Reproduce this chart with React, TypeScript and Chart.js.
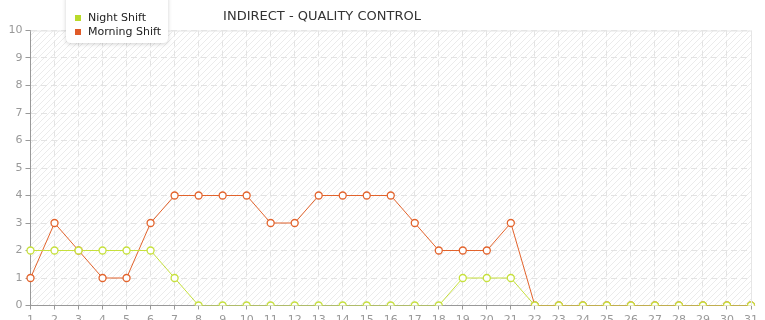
import React, { useEffect, useRef } from "react";
import { Chart, registerables } from "chart.js";

Chart.register(...registerables);

const TITLE = "INDIRECT - QUALITY CONTROL";
const DAYS = Array.from({ length: 31 }, (_, i) => String(i + 1));
const NIGHT_SHIFT = [2, 2, 2, 2, 2, 2, 1, 0, 0, 0, 0, 0, 0, 0, 0, 0, 0, 0, 1, 1, 1, 0, 0, 0, 0, 0, 0, 0, 0, 0, 0];
const MORNING_SHIFT = [1, 3, 2, 1, 1, 3, 4, 4, 4, 4, 3, 3, 4, 4, 4, 4, 3, 2, 2, 2, 3, 0, 0, 0, 0, 0, 0, 0, 0, 0, 0];
const Y_MAX = 10;

const NIGHT_COLOR = "#c6e03c";
const MORNING_COLOR = "#e2632c";

function makeHatch(): CanvasPattern | string {
  const p = document.createElement("canvas");
  p.width = 6;
  p.height = 6;
  const c = p.getContext("2d");
  if (!c) return "#fafafa";
  c.fillStyle = "#ffffff";
  c.fillRect(0, 0, 6, 6);
  c.strokeStyle = "#ebebeb";
  c.lineWidth = 1;
  c.beginPath();
  c.moveTo(0, 6);
  c.lineTo(6, 0);
  c.moveTo(-1, 1);
  c.lineTo(1, -1);
  c.moveTo(5, 7);
  c.lineTo(7, 5);
  c.stroke();
  return c.createPattern(p, "repeat") || "#fafafa";
}

const backgroundPlugin = {
  id: "hatchBackground",
  beforeDraw(chart: any) {
    const { ctx, chartArea } = chart;
    ctx.save();
    ctx.fillStyle = makeHatch();
    ctx.fillRect(chartArea.left, chartArea.top, chartArea.right - chartArea.left, chartArea.bottom - chartArea.top);
    ctx.restore();
  },
  afterDraw(chart: any) {
    const { ctx, chartArea } = chart;
    ctx.save();
    // frame on top and right edges
    ctx.strokeStyle = "#e6e6e6";
    ctx.lineWidth = 1;
    ctx.beginPath();
    ctx.moveTo(chartArea.left, chartArea.top + 0.5);
    ctx.lineTo(chartArea.right + 0.5, chartArea.top + 0.5);
    ctx.lineTo(chartArea.right + 0.5, chartArea.bottom);
    ctx.stroke();

    // title
    ctx.fillStyle = "#333333";
    ctx.font = "13px 'DejaVu Sans', Verdana, sans-serif";
    ctx.textAlign = "center";
    ctx.textBaseline = "middle";
    ctx.fillText(TITLE, 322, 17);

    // floating legend box
    const bx = 66, by = -6, bw = 102, bh = 49, r = 5;
    ctx.shadowColor = "rgba(0,0,0,0.18)";
    ctx.shadowBlur = 4;
    ctx.shadowOffsetY = 1;
    ctx.fillStyle = "#ffffff";
    ctx.beginPath();
    ctx.moveTo(bx + r, by);
    ctx.lineTo(bx + bw - r, by);
    ctx.quadraticCurveTo(bx + bw, by, bx + bw, by + r);
    ctx.lineTo(bx + bw, by + bh - r);
    ctx.quadraticCurveTo(bx + bw, by + bh, bx + bw - r, by + bh);
    ctx.lineTo(bx + r, by + bh);
    ctx.quadraticCurveTo(bx, by + bh, bx, by + bh - r);
    ctx.lineTo(bx, by + r);
    ctx.quadraticCurveTo(bx, by, bx + r, by);
    ctx.closePath();
    ctx.fill();
    ctx.shadowColor = "transparent";
    ctx.shadowBlur = 0;
    ctx.shadowOffsetY = 0;

    ctx.font = "11px 'DejaVu Sans', Verdana, sans-serif";
    ctx.textAlign = "left";
    ctx.textBaseline = "middle";
    chart.data.datasets.forEach((ds: any, i: number) => {
      const y = 18 + i * 14;
      ctx.fillStyle = ds.legendColor;
      ctx.fillRect(75, y - 3, 6, 6);
      ctx.fillStyle = "#222222";
      ctx.fillText(ds.label, 88, y);
    });
    ctx.restore();
  },
};

export default function App() {
  const ref = useRef<HTMLCanvasElement>(null);

  useEffect(() => {
    document.body.style.margin = "0";
    if (!ref.current) return;
    const chart = new Chart(ref.current, {
      type: "line",
      data: {
        labels: DAYS,
        datasets: [
          {
            label: "Night Shift",
            data: NIGHT_SHIFT,
            borderColor: NIGHT_COLOR,
            backgroundColor: "#ffffff",
            pointBackgroundColor: "#ffffff",
            pointBorderColor: NIGHT_COLOR,
            pointBorderWidth: 1.3,
            pointRadius: 3.5,
            borderWidth: 1,
            tension: 0,
            legendColor: "#b9da2a",
          } as any,
          {
            label: "Morning Shift",
            data: MORNING_SHIFT,
            borderColor: MORNING_COLOR,
            backgroundColor: "#ffffff",
            pointBackgroundColor: "#ffffff",
            pointBorderColor: MORNING_COLOR,
            pointBorderWidth: 1.3,
            pointRadius: 3.5,
            borderWidth: 1,
            tension: 0,
            legendColor: "#e05a28",
          } as any,
        ],
      },
      options: {
        animation: false,
        responsive: false,
        layout: { padding: { top: 30.5, right: 14, left: 0, bottom: 0 } },
        plugins: { legend: { display: false }, title: { display: false }, tooltip: { enabled: false } },
        scales: {
          x: {
            offset: false,
            grid: {
              color: "#e3e3e3",
              tickColor: "#999999",
              tickLength: 4,
              tickBorderDash: [],
            } as any,
            border: { color: "#999999", dash: [6, 4] } as any,
            ticks: {
              color: "#999999",
              font: { size: 11, family: "'DejaVu Sans', Verdana, sans-serif" },
              padding: 4,
              maxRotation: 0,
              autoSkip: false,
            },
            afterFit(scale: any) {
              scale.height = 14.5;
            },
          },
          y: {
            min: 0,
            max: Y_MAX,
            grid: {
              color: "#e3e3e3",
              tickColor: "#999999",
              tickLength: 5,
            } as any,
            border: { color: "#999999", dash: [6, 4] } as any,
            ticks: {
              stepSize: 1,
              color: "#999999",
              font: { size: 11, family: "'DejaVu Sans', Verdana, sans-serif" },
              padding: 3,
            },
            afterFit(scale: any) {
              scale.width = 30.5;
            },
          },
        },
      },
      plugins: [backgroundPlugin],
    });
    return () => chart.destroy();
  }, []);

  return (
    <div style={{ width: 765, height: 320 }}>
      <canvas ref={ref} width={765} height={320} style={{ display: "block" }} />
    </div>
  );
}
